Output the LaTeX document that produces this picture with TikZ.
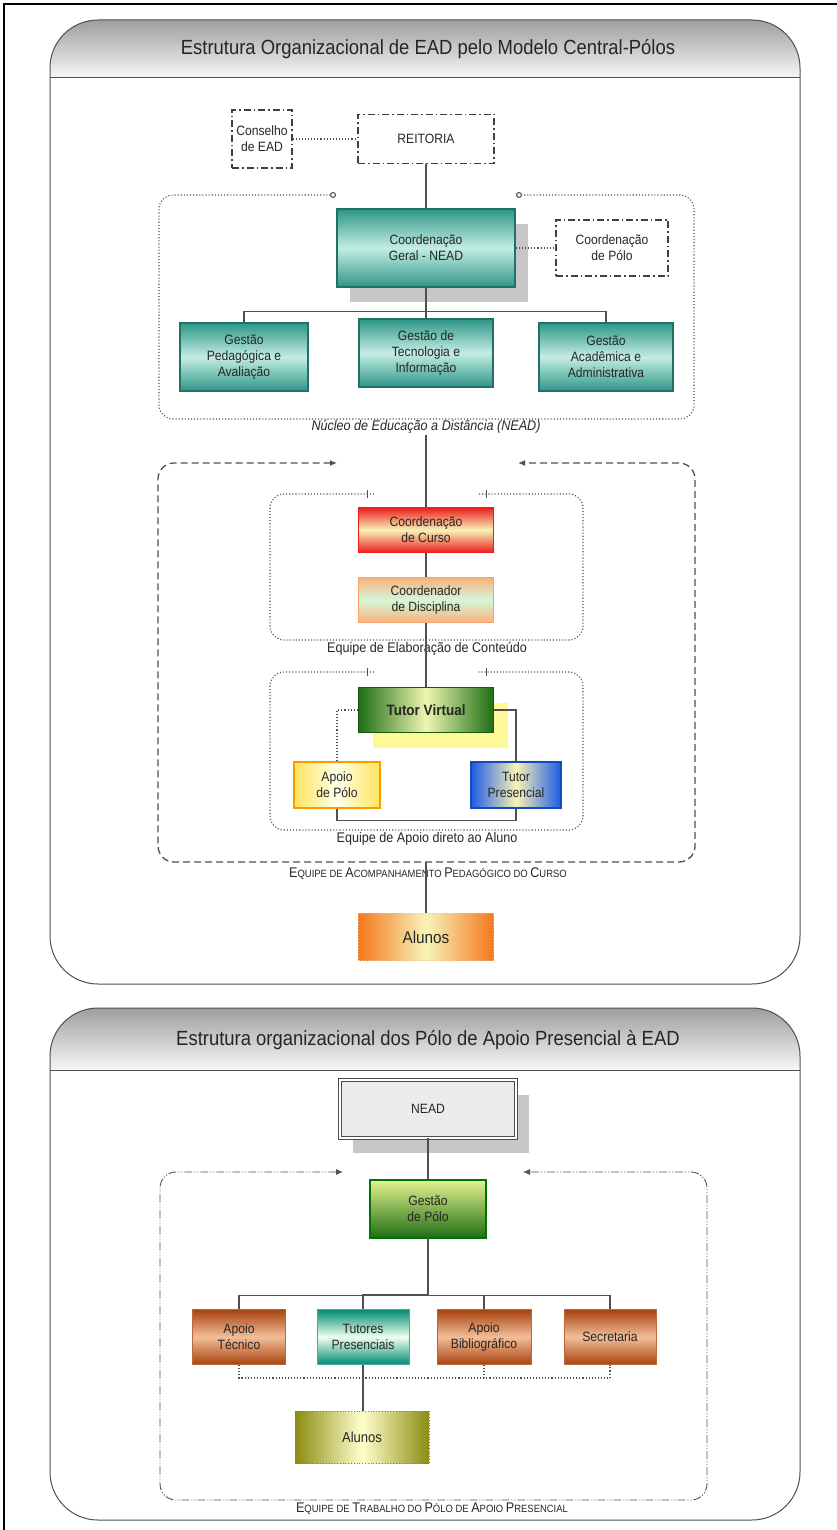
\documentclass[tikz,border=0pt]{standalone}
\usepackage{fontspec}
\setmainfont[FakeStretch=0.9]{Liberation Sans}
\usetikzlibrary{arrows.meta,positioning,shadows}

\definecolor{linegray}{HTML}{505050}
\definecolor{tealdk}{HTML}{2E9688}
\definecolor{teallt}{HTML}{C4EDE4}
\definecolor{redcc}{HTML}{EE1C1C}
\definecolor{paleyel}{HTML}{F8F3B8}
\definecolor{peach}{HTML}{F7B27A}
\definecolor{palegrn}{HTML}{D6F7DA}
\definecolor{greendk}{HTML}{1E6E14}
\definecolor{greenlt}{HTML}{E4F28E}
\definecolor{yelapoio}{HTML}{FFE55C}
\definecolor{bluetp}{HTML}{1E5BE6}
\definecolor{orgalu}{HTML}{F5781E}
\definecolor{rust}{HTML}{A8420E}
\definecolor{rustlt}{HTML}{F2BE98}
\definecolor{olive}{HTML}{8C8C12}

\newcommand{\smc}[1]{{\fontsize{10.5}{12}\selectfont #1}}

\tikzset{
  panel/.style={draw=linegray, line width=1pt, rounded corners=48pt},
  titletext/.style={font=\fontsize{20.5}{24}\selectfont, text=black!85},
  orgbox/.style={rectangle, align=center, inner sep=2pt, text=black!85,
    font=\fontsize{13.5}{16}\selectfont},
  dashdotbox/.style={orgbox, draw=black!75, line width=1.1pt,
    dash pattern=on 7pt off 3pt on 1.5pt off 3pt},
  tealbox/.style={orgbox, draw=tealdk!75!black, line width=1.4pt,
    top color=tealdk, bottom color=tealdk, middle color=teallt},
  redbox/.style={orgbox, draw=redcc, line width=1.4pt,
    top color=redcc, bottom color=redcc, middle color=paleyel},
  peachbox/.style={orgbox, draw=peach!90!red, line width=1.2pt,
    top color=peach, bottom color=peach, middle color=palegrn},
  greenbox/.style={orgbox, draw=greendk!80!black, line width=1.2pt,
    left color=greendk, right color=greendk, middle color=greenlt!70!white},
  yellowbox/.style={orgbox, draw=orange!80!yellow, line width=1.2pt,
    left color=yelapoio, right color=yelapoio, middle color=yellow!8},
  bluebox/.style={orgbox, draw=bluetp!80!black, line width=1.2pt,
    left color=bluetp, right color=bluetp, middle color=paleyel},
  alunobox/.style={orgbox, draw=orgalu!50, dotted, line width=1pt,
    left color=orgalu, right color=orgalu, middle color=paleyel},
  neadbox/.style={orgbox, draw=black!70, line width=0.8pt, double=white,
    double distance=1.5pt, fill=black!8},
  gpolobox/.style={orgbox, draw=greendk!80!black, line width=0.8pt,
    double=green!45!black, double distance=1.2pt,
    top color=greenlt, bottom color=greendk},
  rustbox/.style={orgbox, draw=rust!80, line width=0.8pt,
    top color=rust, bottom color=rust, middle color=rustlt},
  tutorbox/.style={orgbox, draw=teal!70, line width=0.8pt,
    top color=teal!90!green, bottom color=teal!90!green, middle color=green!6},
  olivebox/.style={orgbox, draw=orange!60!red, dotted, line width=0.8pt,
    left color=olive, right color=olive, middle color=yellow!20},
  grayshadow/.style={general shadow={fill=black!22, shadow xshift=13pt, shadow yshift=-15pt}},
  link/.style={draw=linegray, line width=1.1pt},
  dotlink/.style={draw=linegray, dotted, line width=1.1pt},
  grpdot/.style={draw=linegray, dotted, line width=1.1pt, rounded corners=14pt},
  grpdash/.style={draw=linegray, line width=1.3pt, rounded corners=16pt,
    dash pattern=on 7pt off 4pt},
  grpdashdot/.style={draw=linegray, line width=0.9pt, rounded corners=16pt,
    dash pattern=on 8pt off 2pt on 1pt off 2pt on 1pt off 2pt},
  grplabel/.style={font=\fontsize{14}{16}\selectfont, text=black!85, inner sep=1pt},
  caplabel/.style={font=\fontsize{14}{16}\selectfont, text=black!85, inner sep=1pt},
  tick/.style={draw=linegray, line width=0.9pt},
}

\begin{document}
\begin{tikzpicture}[x=1pt,y=-1pt]
    \useasboundingbox (0,0) rectangle (837,1530);
    % frame
    \draw[line width=2.2pt] (4,1530) -- (4,4) -- (837,4);

    % upper panel
    \begin{scope}
        \clip[rounded corners=48pt] (50,20) rectangle (800,984);
        \shade[top color=black!38, bottom color=black!3] (50,20) rectangle (800,78);
    \end{scope}
    \draw[panel] (50,20) rectangle (800,984);
    \draw[panel] (50,78) -- (800,78);
    \node[titletext] (title1) at (428,49) {Estrutura Organizacional de EAD pelo Modelo Central-Pólos};

    % nodes
    \node[dashdotbox, minimum width=60pt, minimum height=58pt] (conselho) at (262,139) {Conselho\\de EAD};
    \node[dashdotbox, minimum width=136pt, minimum height=49pt] (reitoria) at (426,139) {REITORIA};
    \node[tealbox, grayshadow, minimum width=178pt, minimum height=78pt] (cgeral) at (426,248) {Coordenação\\Geral - NEAD};
    \node[dashdotbox, minimum width=112pt, minimum height=56pt] (cpolo) at (612,248) {Coordenação\\de Pólo};
    \node[tealbox, minimum width=128pt, minimum height=68pt] (gped) at (244,357) {Gestão\\Pedagógica e\\Avaliação};
    \node[tealbox, minimum width=134pt, minimum height=68pt] (gtec) at (426,353) {Gestão de\\Tecnologia e\\Informação};
    \node[tealbox, minimum width=134pt, minimum height=68pt] (gacad) at (606,357) {Gestão\\Acadêmica e\\Administrativa};
    \node[grplabel] (neadlbl) at (426,427) {\itshape Núcleo de Educação a Distância (NEAD)};

    \node[redbox, minimum width=135pt, minimum height=45pt] (ccurso) at (426,530) {Coordenação\\de Curso};
    \node[peachbox, minimum width=135pt, minimum height=45pt] (cdisc) at (426,600) {Coordenador\\de Disciplina};
    \node[grplabel] (elablbl) at (427,649) {Equipe de Elaboração de Conteúdo};
    \node[greenbox, general shadow={fill=yellow!40, shadow xshift=14pt, shadow yshift=-15pt},
      minimum width=135pt, minimum height=45pt, font=\fontsize{15}{17}\selectfont\bfseries] (tvirtual) at (426,710) {Tutor Virtual};
    \node[yellowbox, minimum width=86pt, minimum height=46pt] (apolo) at (337,785) {Apoio\\de Pólo};
    \node[bluebox, minimum width=90pt, minimum height=46pt] (tpres) at (516,785) {Tutor\\Presencial};
    \node[grplabel] (apoiolbl) at (427,839) {Equipe de Apoio direto ao Aluno};
    \node[caplabel] (acmplbl) at (428,874) {E\smc{QUIPE DE }A\smc{COMPANHAMENTO }P\smc{EDAGÓGICO DO }C\smc{URSO}};
    \node[alunobox, minimum width=135pt, minimum height=47pt, font=\fontsize{17}{19}\selectfont] (alunos1) at (426,937) {Alunos};
    \coordinate (acmpbot) at (426,862);

    % groups
    \draw[grpdot, {Circle[open,length=6pt,width=6pt]}-{Circle[open,length=6pt,width=6pt]}]
      (336,195) -- (159,195) -- (159,419) -- (694,419) -- (694,195) -- (516,195);
    \draw[grpdash, {Latex[length=7pt,width=6pt]}-{Latex[length=7pt,width=6pt]}]
      (337,463) -- (158,463) -- (158,862) -- (695,862) -- (695,463) -- (518,463);
    \draw[grpdot] (374,494) -- (270,494) -- (270,640) -- (583,640) -- (583,494) -- (478,494);
    \draw[tick] (367,490) -- (367,498); \draw[tick] (486,490) -- (486,498);
    \draw[grpdot] (374,672) -- (270,672) -- (270,830) -- (583,830) -- (583,672) -- (478,672);
    \draw[tick] (367,668) -- (367,676); \draw[tick] (486,668) -- (486,676);

    % paths
    \draw[dotlink] (conselho.east) -- (reitoria.west); % Conselho -> Reitoria
    \draw[link] (reitoria.south) -- (cgeral.north);
    \draw[dotlink] (cgeral.east) -- (cpolo.west);
    \draw[link] (cgeral.south) -- ++(0,24) -| (gped.north);
    \draw[link] (cgeral.south) -- ++(0,24) -| (gacad.north);
    \draw[link] (cgeral.south) -- (gtec.north);
    \draw[link] (neadlbl.south) -- (ccurso.north); % NEAD -> Curso
    \draw[link] (ccurso.south) -- (cdisc.north);
    \draw[link] (cdisc.south) -- (tvirtual.north);
    \draw[dotlink] (tvirtual.west) -| (apolo.north);
    \draw[link] (tvirtual.east) -| (tpres.north);
    \draw[link] (apolo.south) -- ++(0,12) -| (tpres.south);
    \draw[link] (acmpbot) -- (alunos1.north); % equipe -> alunos

    % lower panel
    \begin{scope}
        \clip[rounded corners=48pt] (50,1008) rectangle (800,1520);
        \shade[top color=black!38, bottom color=black!3] (50,1008) rectangle (800,1070);
    \end{scope}
    \draw[panel] (50,1008) rectangle (800,1520);
    \draw[panel] (50,1070) -- (800,1070);
    \node[titletext] (title2) at (428,1040) {Estrutura organizacional dos Pólo de Apoio Presencial à EAD};

    % nodes
    \node[neadbox, grayshadow, minimum width=176pt, minimum height=58pt] (nead) at (428,1109) {NEAD};
    \node[gpolobox, minimum width=116pt, minimum height=58pt] (gpolo) at (428,1209) {Gestão\\de Pólo};
    \node[rustbox, minimum width=93pt, minimum height=55pt] (aptec) at (239,1337) {Apoio\\Técnico};
    \node[tutorbox, minimum width=92pt, minimum height=55pt] (tutores) at (363,1337) {Tutores\\Presenciais};
    \node[rustbox, minimum width=94pt, minimum height=55pt] (apbib) at (484,1337) {Apoio\\Bibliográfico};
    \node[rustbox, minimum width=92pt, minimum height=55pt] (secret) at (610,1337) {Secretaria};
    \node[olivebox, minimum width=134pt, minimum height=52pt, font=\fontsize{14.5}{17}\selectfont] (alunos2) at (362,1437) {Alunos};
    \node[caplabel] (trablbl) at (432,1509) {E\smc{QUIPE DE }T\smc{RABALHO DO }P\smc{ÓLO DE }A\smc{POIO }P\smc{RESENCIAL}};
    \coordinate (dotbar) at (0,1378);

    % group
    \draw[grpdashdot, {Latex[length=7pt,width=6pt]}-{Latex[length=7pt,width=6pt]}]
      (343,1172) -- (160,1172) -- (160,1500) -- (707,1500) -- (707,1172) -- (523,1172);

    % paths
    \draw[link] (nead.south) -- (gpolo.north);
    \draw[link] (gpolo.south) -- ++(0,57) -| (aptec.north);
    \draw[link] (gpolo.south) -- ++(0,57) -| (apbib.north);
    \draw[link] (gpolo.south) -- ++(0,57) -| (secret.north);
    \draw[link, line width=2pt] (gpolo.south) -- ++(0,57) -| (tutores.north);
    \draw[dotlink] (aptec.south) |- (dotbar -| secret.south) -- (secret.south);
    \draw[dotlink] (apbib.south) -- (apbib.south |- dotbar);
    \draw[link] (tutores.south) -- (tutores.south |- alunos2.north); % tutores -> alunos

\end{tikzpicture}
\end{document}
